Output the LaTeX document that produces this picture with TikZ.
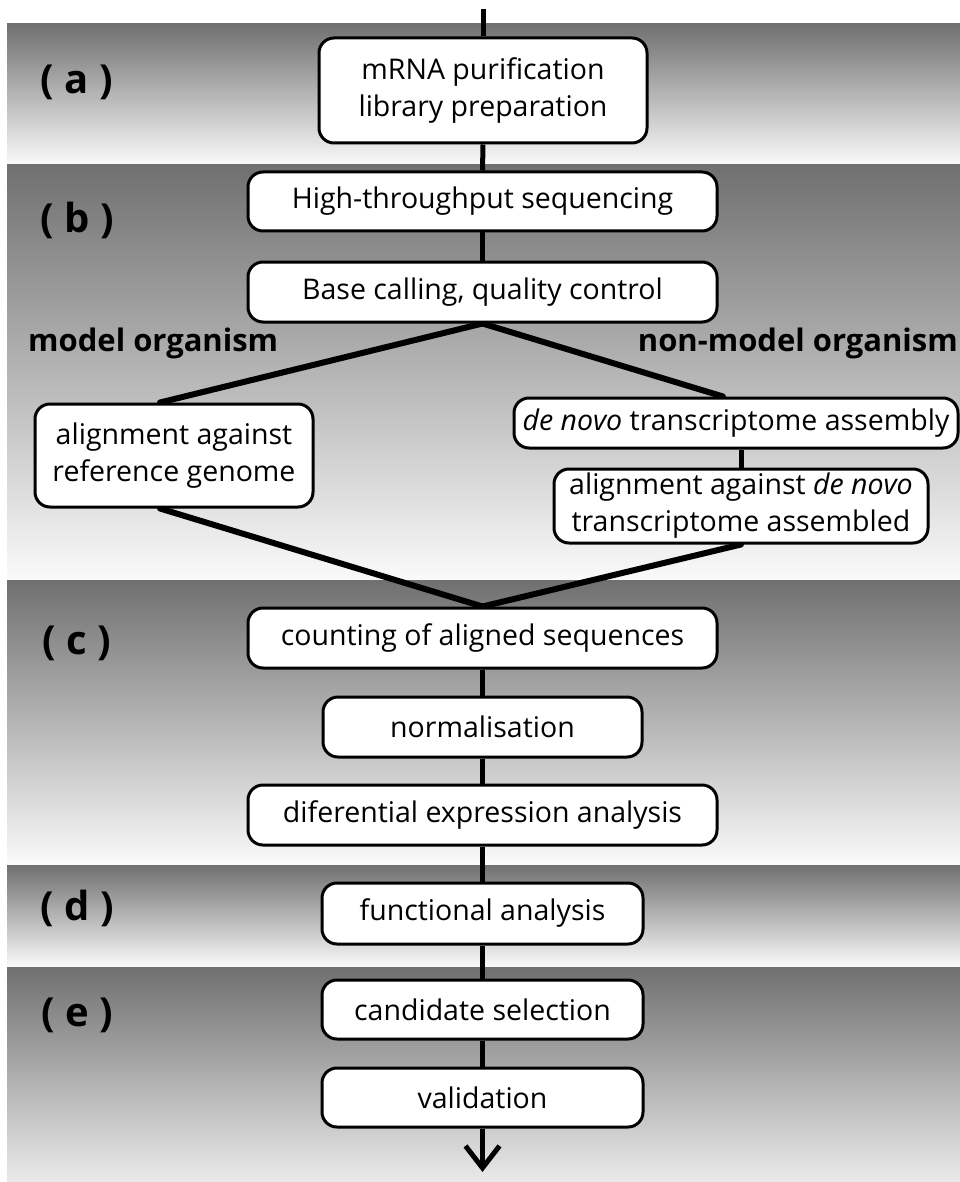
\documentclass[tikz,border=0pt]{standalone}
\usepackage{fontspec}
\setmainfont{Open Sans}
\usetikzlibrary{arrows.meta,calc}
\definecolor{bandtop}{RGB}{112,112,112}
\definecolor{bandbot}{RGB}{250,250,250}
\definecolor{bandbotE}{RGB}{234,234,234}
\pgfdeclarelayer{bands}
\pgfdeclarelayer{lines}
\pgfsetlayers{bands,lines,main}
\tikzset{
  box/.style={draw=black, line width=3pt, fill=white, rounded corners=15pt,
    inner sep=0pt, align=center, font=\fontsize{28.5}{37}\selectfont},
  conn/.style={draw=black, line width=5pt},
  diag/.style={draw=black, line width=6pt, line cap=round},
  branch/.style={font=\bfseries\fontsize{31}{36}\selectfont, inner sep=0pt},
  stage/.style={font=\bfseries\fontsize{40}{44}\selectfont, inner sep=0pt},
  band/.style={top color=bandtop, bottom color=bandbot},
}
\begin{document}
\begin{tikzpicture}[x=1pt,y=-1pt]
\useasboundingbox (0,0) rectangle (960,1182);
\begin{pgfonlayer}{bands}
\fill[white] (0,0) rectangle (960,1182);
\shade[band] (7,24) rectangle (960,165);
\shade[band] (7,165) rectangle (960,580);
\shade[band] (7,580) rectangle (960,865);
\shade[band] (7,865) rectangle (960,967);
\shade[top color=bandtop, bottom color=bandbotE] (7,967) rectangle (960,1181);
\end{pgfonlayer}

% stage labels
\node[stage] (la) at (77,82) {( a )};
\node[stage] (lb) at (77,220) {( b )};
\node[stage] (lc) at (77,643) {( c )};
\node[stage] (ld) at (77,908) {( d )};
\node[stage] (le) at (77,1015) {( e )};

% branch labels
\node[branch, anchor=west] (model) at (28,343) {model organism};
\node[branch, anchor=east] (nonmodel) at (958,343) {non-model organism};

% boxes
\node[box, minimum width=328pt, minimum height=105pt] (prep) at (483,90.5) {mRNA purification\\library preparation};
\node[box, minimum width=469pt, minimum height=59pt] (seq) at (482.5,201.5) {High-throughput sequencing};
\node[box, minimum width=469pt, minimum height=60pt] (base) at (482.5,292) {Base calling, quality control};
\node[box, minimum width=278pt, minimum height=103pt] (ref) at (174,455.5) {alignment against\\reference genome};
\node[box, minimum width=444pt, minimum height=50pt] (denovo) at (736,423) {\textit{de novo} transcriptome assembly};
\node[box, minimum width=374pt, minimum height=74pt] (aln) at (741,506) {alignment against \textit{de novo}\\transcriptome assembled};
\node[box, minimum width=469pt, minimum height=60pt] (count) at (482.5,638) {counting of aligned sequences};
\node[box, minimum width=319pt, minimum height=60pt] (norm) at (482.5,727) {normalisation};
\node[box, minimum width=469pt, minimum height=60pt] (diff) at (482.5,815) {diferential expression analysis};
\node[box, minimum width=321pt, minimum height=61pt] (func) at (482.5,913.5) {functional analysis};
\node[box, minimum width=321pt, minimum height=59pt] (cand) at (482.5,1009.5) {candidate selection};
\node[box, minimum width=321pt, minimum height=59pt] (valid) at (482.5,1097.5) {validation};

\coordinate (start) at (483,9);
\coordinate (finish) at (482.5,1172);

\begin{pgfonlayer}{lines}
\draw[conn] (start) -- (prep.north);
\draw[conn] (prep.south) -- (seq.north);
\draw[conn] (seq.south) -- (base.north);
\draw[diag] (base.south) -- ([xshift=-14pt]ref.north);
\draw[diag] (base.south) -- ([xshift=-13pt]denovo.north);
\draw[conn] (aln.north) -- (aln.north |- denovo.south);
\draw[diag] ([xshift=-14pt]ref.south) -- (count.north);
\draw[diag] (aln.south) -- (count.north);
\draw[conn] (count.south) -- (norm.north);
\draw[conn] (norm.south) -- (diff.north);
\draw[conn] (diff.south) -- (func.north);
\draw[conn] (func.south) -- (cand.north);
\draw[conn] (cand.south) -- (valid.north);
\draw[conn, -{Straight Barb[length=22pt,width=34pt,line width=5pt]}] (valid.south) -- (finish);
\end{pgfonlayer}
\end{tikzpicture}
\end{document}
